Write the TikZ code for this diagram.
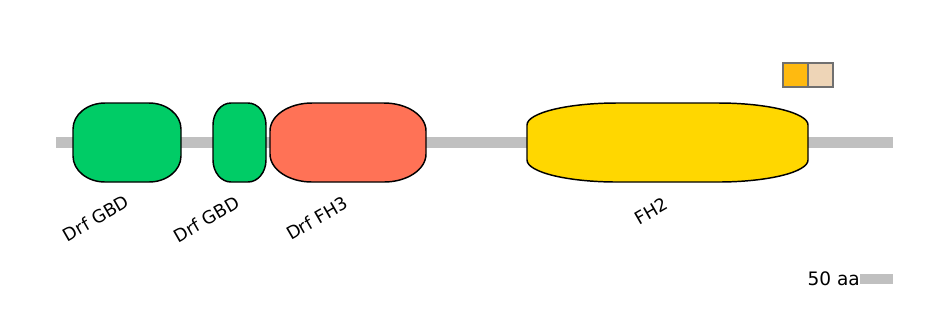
\documentclass[tikz,border=0pt]{standalone}
\usepackage{fontspec}
\setmainfont{DejaVu Sans}
\usepackage{tikz}
\definecolor{backbone}{RGB}{192,192,192}
\definecolor{gbdgreen}{RGB}{0,204,102}
\definecolor{fhcoral}{RGB}{255,114,86}
\definecolor{fhgold}{RGB}{255,215,0}
\definecolor{motiforange}{RGB}{255,186,16}
\definecolor{motifbeige}{RGB}{238,213,183}
\definecolor{motifedge}{RGB}{112,112,112}

% one domain with elliptic corners: name, x1, x2, rx, ry, colour
\newcommand{\pfdomain}[6]{%
	\draw[pfdom, fill=#6] (#2+#4,103) -- (#3-#4,103)
		.. controls (#3-0.448*#4,103) and (#3,103+0.448*#5) .. (#3,103+#5)
		-- (#3,182-#5)
		.. controls (#3,182-0.448*#5) and (#3-0.448*#4,182) .. (#3-#4,182)
		-- (#2+#4,182)
		.. controls (#2+0.448*#4,182) and (#2,182-0.448*#5) .. (#2,182-#5)
		-- (#2,103+#5)
		.. controls (#2,103+0.448*#5) and (#2+0.448*#4,103) .. (#2+#4,103) -- cycle;
	\coordinate (#1) at ({(#2+#3)/2},197);}

\begin{document}
\begin{tikzpicture}[x=0.75pt, y=-0.75pt,
	pfdom/.style={draw=black, line width=1.1pt, line join=round},
	lbl/.style={font=\fontsize{13.3pt}{15pt}\selectfont, rotate=30, anchor=north east, inner sep=0pt},
	motif/.style={draw=motifedge, line width=1.5pt}]
	\useasboundingbox (0,0) rectangle (944,330);
	% backbone
	\coordinate (nterm) at (56,142.5); \coordinate (cterm) at (893,142.5);
	\draw[backbone, line width=8.25pt] (nterm) -- (cterm);
	% domains
	\pfdomain{gbdA}{73}{181}{32}{26}{gbdgreen}
	\pfdomain{gbdB}{213}{266}{18}{22}{gbdgreen}
	\pfdomain{fhThree}{270}{426}{42}{28}{fhcoral}
	\pfdomain{fhTwo}{527}{808}{90}{22}{fhgold}
	% labels
	\node[lbl] (lblGbdA) at ([xshift=-2.25pt, yshift=2.25pt]gbdA) {Drf GBD};
	\node[lbl] (lblGbdB) at ([xshift=-3.75pt, yshift=1.5pt]gbdB) {Drf GBD};
	\node[lbl] (lblFhThree) at ([xshift=-3.75pt, yshift=1.5pt]fhThree) {Drf FH3};
	\node[lbl] (lblFhTwo) at ([xshift=-3.5pt, yshift=0.5pt]fhTwo) {FH2};
	% motifs
	\draw[motif, fill=motiforange] (783,63) rectangle (808,87);
	\draw[motif, fill=motifbeige] (808,63) rectangle (833,87);
	% scale bar
	\coordinate (scaleL) at (860,279); \coordinate (scaleR) at (893,279);
	\draw[backbone, line width=7.5pt] (scaleL) -- (scaleR);
	\node[font=\fontsize{13.9pt}{15pt}\selectfont, anchor=east, inner sep=0pt] (scaleTxt) at (scaleL) {50 aa};
\end{tikzpicture}
\end{document}
